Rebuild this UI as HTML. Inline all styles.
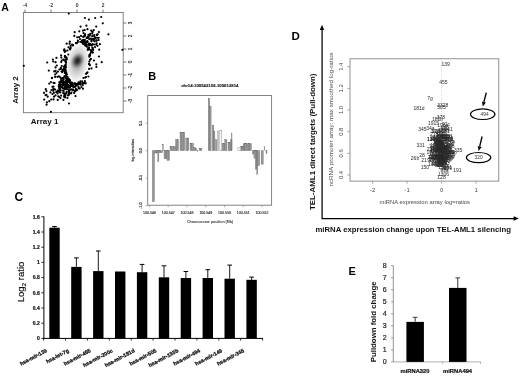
<!DOCTYPE html>
<html><head><meta charset="utf-8"><title>Figure</title>
<style>
html,body{margin:0;padding:0;background:#fff;}
body{width:520px;height:377px;overflow:hidden;}
svg{display:block;filter:blur(0.4px);font-family:"Liberation Sans",sans-serif;}
</style></head><body>
<svg width="520" height="377" viewBox="0 0 520 377">
<rect width="520" height="377" fill="#fff"/>
<g id="A">
<defs>
<radialGradient id="blob">
<stop offset="0" stop-color="#9c9c9c"/>
<stop offset="0.3" stop-color="#b6b6b6"/>
<stop offset="0.6" stop-color="#d6d6d6"/>
<stop offset="0.85" stop-color="#ececec"/>
<stop offset="1" stop-color="#fbfbfb"/>
</radialGradient>
<radialGradient id="core">
<stop offset="0" stop-color="#222" stop-opacity="1"/>
<stop offset="0.25" stop-color="#2c2c2c" stop-opacity="0.95"/>
<stop offset="0.6" stop-color="#555" stop-opacity="0.55"/>
<stop offset="1" stop-color="#999" stop-opacity="0"/>
</radialGradient>
</defs>
<ellipse cx="0" cy="0" rx="19.5" ry="11" transform="translate(77.6 62.6) rotate(-80)" fill="url(#blob)"/>
<ellipse cx="0" cy="0" rx="9" ry="7" transform="translate(77.5 60.8) rotate(-62)" fill="url(#core)"/>
<rect x="23.4" y="12.5" width="99.8" height="100.2" fill="none" stroke="#777" stroke-width="0.9"/>
<line x1="25" y1="9.6" x2="25" y2="12.5" stroke="#555" stroke-width="0.8"/>
<text x="25" y="6.6" font-size="4.8" text-anchor="middle" fill="#222" stroke="#222" stroke-width="0.12">-4</text>
<line x1="51" y1="9.6" x2="51" y2="12.5" stroke="#555" stroke-width="0.8"/>
<text x="51" y="6.6" font-size="4.8" text-anchor="middle" fill="#222" stroke="#222" stroke-width="0.12">-2</text>
<line x1="77" y1="9.6" x2="77" y2="12.5" stroke="#555" stroke-width="0.8"/>
<text x="77" y="6.6" font-size="4.8" text-anchor="middle" fill="#222" stroke="#222" stroke-width="0.12">0</text>
<line x1="103" y1="9.6" x2="103" y2="12.5" stroke="#555" stroke-width="0.8"/>
<text x="103" y="6.6" font-size="4.8" text-anchor="middle" fill="#222" stroke="#222" stroke-width="0.12">2</text>
<line x1="123.2" y1="23" x2="126.4" y2="23" stroke="#555" stroke-width="0.8"/>
<text transform="translate(131.5 23) rotate(-90)" font-size="4.6" text-anchor="middle" fill="#222" stroke="#222" stroke-width="0.15">3</text>
<line x1="123.2" y1="36" x2="126.4" y2="36" stroke="#555" stroke-width="0.8"/>
<text transform="translate(131.5 36) rotate(-90)" font-size="4.6" text-anchor="middle" fill="#222" stroke="#222" stroke-width="0.15">2</text>
<line x1="123.2" y1="49" x2="126.4" y2="49" stroke="#555" stroke-width="0.8"/>
<text transform="translate(131.5 49) rotate(-90)" font-size="4.6" text-anchor="middle" fill="#222" stroke="#222" stroke-width="0.15">1</text>
<line x1="123.2" y1="62" x2="126.4" y2="62" stroke="#555" stroke-width="0.8"/>
<text transform="translate(131.5 62) rotate(-90)" font-size="4.6" text-anchor="middle" fill="#222" stroke="#222" stroke-width="0.15">0</text>
<line x1="123.2" y1="75" x2="126.4" y2="75" stroke="#555" stroke-width="0.8"/>
<text transform="translate(131.5 75) rotate(-90)" font-size="4.6" text-anchor="middle" fill="#222" stroke="#222" stroke-width="0.15">-1</text>
<line x1="123.2" y1="88" x2="126.4" y2="88" stroke="#555" stroke-width="0.8"/>
<text transform="translate(131.5 88) rotate(-90)" font-size="4.6" text-anchor="middle" fill="#222" stroke="#222" stroke-width="0.15">-2</text>
<line x1="123.2" y1="101" x2="126.4" y2="101" stroke="#555" stroke-width="0.8"/>
<text transform="translate(131.5 101) rotate(-90)" font-size="4.6" text-anchor="middle" fill="#222" stroke="#222" stroke-width="0.15">-3</text>
<circle cx="65.7" cy="64.6" r="1.1"/>
<circle cx="66.1" cy="76.6" r="1.1"/>
<circle cx="89.3" cy="61.6" r="1.1"/>
<circle cx="85.4" cy="43.7" r="1.1"/>
<circle cx="73.1" cy="45.2" r="1.1"/>
<circle cx="84.6" cy="83.0" r="1.1"/>
<circle cx="78.4" cy="84.2" r="1.1"/>
<circle cx="79.1" cy="37.1" r="1.1"/>
<circle cx="91.5" cy="41.3" r="1.1"/>
<circle cx="66.0" cy="62.8" r="1.1"/>
<circle cx="74.4" cy="83.4" r="1.1"/>
<circle cx="65.8" cy="66.1" r="1.1"/>
<circle cx="65.3" cy="89.0" r="1.1"/>
<circle cx="64.8" cy="56.3" r="1.1"/>
<circle cx="76.9" cy="42.9" r="1.1"/>
<circle cx="65.5" cy="51.2" r="1.1"/>
<circle cx="66.7" cy="43.7" r="1.1"/>
<circle cx="70.7" cy="47.9" r="1.1"/>
<circle cx="83.9" cy="41.2" r="1.1"/>
<circle cx="65.9" cy="78.0" r="1.1"/>
<circle cx="69.6" cy="43.7" r="1.1"/>
<circle cx="61.8" cy="66.0" r="1.1"/>
<circle cx="90.2" cy="54.0" r="1.1"/>
<circle cx="65.6" cy="72.9" r="1.1"/>
<circle cx="71.0" cy="82.6" r="1.1"/>
<circle cx="68.3" cy="54.5" r="1.1"/>
<circle cx="72.1" cy="44.7" r="1.1"/>
<circle cx="88.4" cy="76.5" r="1.1"/>
<circle cx="90.1" cy="59.8" r="1.1"/>
<circle cx="70.1" cy="49.4" r="1.1"/>
<circle cx="88.7" cy="48.9" r="1.1"/>
<circle cx="84.4" cy="42.6" r="1.1"/>
<circle cx="67.4" cy="50.5" r="1.1"/>
<circle cx="77.3" cy="84.4" r="1.1"/>
<circle cx="68.5" cy="47.3" r="1.1"/>
<circle cx="61.2" cy="62.1" r="1.1"/>
<circle cx="69.9" cy="48.9" r="1.1"/>
<circle cx="64.4" cy="49.3" r="1.1"/>
<circle cx="72.8" cy="45.5" r="1.1"/>
<circle cx="85.4" cy="44.3" r="1.1"/>
<circle cx="80.0" cy="83.8" r="1.1"/>
<circle cx="84.9" cy="81.2" r="1.1"/>
<circle cx="86.9" cy="73.1" r="1.1"/>
<circle cx="82.7" cy="40.3" r="1.1"/>
<circle cx="95.0" cy="38.6" r="1.1"/>
<circle cx="65.8" cy="85.5" r="1.1"/>
<circle cx="89.3" cy="55.1" r="1.1"/>
<circle cx="77.9" cy="42.0" r="1.1"/>
<circle cx="74.3" cy="83.9" r="1.1"/>
<circle cx="64.8" cy="52.0" r="1.1"/>
<circle cx="75.5" cy="83.9" r="1.1"/>
<circle cx="86.0" cy="77.0" r="1.1"/>
<circle cx="82.6" cy="82.8" r="1.1"/>
<circle cx="84.7" cy="30.1" r="1.1"/>
<circle cx="66.8" cy="79.4" r="1.1"/>
<circle cx="87.8" cy="38.0" r="1.1"/>
<circle cx="64.5" cy="69.1" r="1.1"/>
<circle cx="86.5" cy="42.1" r="1.1"/>
<circle cx="63.7" cy="79.1" r="1.1"/>
<circle cx="64.9" cy="55.8" r="1.1"/>
<circle cx="64.9" cy="71.0" r="1.1"/>
<circle cx="76.0" cy="43.1" r="1.1"/>
<circle cx="73.4" cy="87.4" r="1.1"/>
<circle cx="68.0" cy="80.8" r="1.1"/>
<circle cx="79.3" cy="31.3" r="1.1"/>
<circle cx="67.7" cy="77.0" r="1.1"/>
<circle cx="88.7" cy="47.8" r="1.1"/>
<circle cx="92.5" cy="44.0" r="1.1"/>
<circle cx="82.0" cy="40.7" r="1.1"/>
<circle cx="71.8" cy="89.3" r="1.1"/>
<circle cx="77.9" cy="40.5" r="1.1"/>
<circle cx="81.8" cy="42.2" r="1.1"/>
<circle cx="66.9" cy="74.6" r="1.1"/>
<circle cx="82.2" cy="81.3" r="1.1"/>
<circle cx="60.9" cy="67.9" r="1.1"/>
<circle cx="83.5" cy="44.0" r="1.1"/>
<circle cx="66.3" cy="73.7" r="1.1"/>
<circle cx="82.3" cy="42.5" r="1.1"/>
<circle cx="89.1" cy="68.9" r="1.1"/>
<circle cx="65.9" cy="67.5" r="1.1"/>
<circle cx="91.5" cy="68.4" r="1.1"/>
<circle cx="65.0" cy="65.6" r="1.1"/>
<circle cx="65.9" cy="80.9" r="1.1"/>
<circle cx="71.9" cy="84.4" r="1.1"/>
<circle cx="81.4" cy="87.0" r="1.1"/>
<circle cx="87.8" cy="50.0" r="1.1"/>
<circle cx="65.5" cy="70.5" r="1.1"/>
<circle cx="89.1" cy="64.1" r="1.1"/>
<circle cx="83.4" cy="78.0" r="1.1"/>
<circle cx="82.7" cy="41.7" r="1.1"/>
<circle cx="89.5" cy="49.5" r="1.1"/>
<circle cx="77.2" cy="37.3" r="1.1"/>
<circle cx="62.8" cy="78.1" r="1.1"/>
<circle cx="92.3" cy="49.6" r="1.1"/>
<circle cx="89.1" cy="63.9" r="1.1"/>
<circle cx="91.6" cy="45.5" r="1.1"/>
<circle cx="87.8" cy="49.2" r="1.1"/>
<circle cx="58.9" cy="76.4" r="1.1"/>
<circle cx="54.6" cy="83.1" r="1.1"/>
<circle cx="90.0" cy="55.6" r="1.1"/>
<circle cx="90.9" cy="50.3" r="1.1"/>
<circle cx="76.4" cy="84.4" r="1.1"/>
<circle cx="61.1" cy="55.4" r="1.1"/>
<circle cx="79.7" cy="88.4" r="1.1"/>
<circle cx="90.9" cy="52.4" r="1.1"/>
<circle cx="65.5" cy="81.8" r="1.1"/>
<circle cx="93.6" cy="39.0" r="1.1"/>
<circle cx="68.3" cy="79.7" r="1.1"/>
<circle cx="75.5" cy="86.4" r="1.1"/>
<circle cx="64.1" cy="69.3" r="1.1"/>
<circle cx="61.5" cy="71.5" r="1.1"/>
<circle cx="65.6" cy="61.8" r="1.1"/>
<circle cx="78.9" cy="83.7" r="1.1"/>
<circle cx="91.8" cy="45.0" r="1.1"/>
<circle cx="57.6" cy="93.4" r="1.1"/>
<circle cx="88.2" cy="37.0" r="1.1"/>
<circle cx="65.6" cy="60.4" r="1.1"/>
<circle cx="60.0" cy="83.1" r="1.1"/>
<circle cx="53.2" cy="61.5" r="1.1"/>
<circle cx="83.8" cy="83.4" r="1.1"/>
<circle cx="62.8" cy="81.8" r="1.1"/>
<circle cx="67.1" cy="82.9" r="1.1"/>
<circle cx="93.1" cy="49.9" r="1.1"/>
<circle cx="64.7" cy="70.4" r="1.1"/>
<circle cx="66.0" cy="85.8" r="1.1"/>
<circle cx="65.3" cy="95.1" r="1.1"/>
<circle cx="78.4" cy="83.6" r="1.1"/>
<circle cx="51.5" cy="90.0" r="1.1"/>
<circle cx="68.6" cy="79.3" r="1.1"/>
<circle cx="64.0" cy="68.6" r="1.1"/>
<circle cx="62.4" cy="83.5" r="1.1"/>
<circle cx="53.5" cy="86.7" r="1.1"/>
<circle cx="58.3" cy="96.3" r="1.1"/>
<circle cx="86.5" cy="38.1" r="1.1"/>
<circle cx="66.1" cy="74.9" r="1.1"/>
<circle cx="63.4" cy="69.6" r="1.1"/>
<circle cx="69.8" cy="80.1" r="1.1"/>
<circle cx="59.3" cy="97.1" r="1.1"/>
<circle cx="64.0" cy="67.1" r="1.1"/>
<circle cx="92.8" cy="52.6" r="1.1"/>
<circle cx="62.3" cy="72.2" r="1.1"/>
<circle cx="69.8" cy="41.7" r="1.1"/>
<circle cx="88.6" cy="44.3" r="1.1"/>
<circle cx="84.9" cy="42.3" r="1.1"/>
<circle cx="66.4" cy="83.7" r="1.1"/>
<circle cx="57.9" cy="71.6" r="1.1"/>
<circle cx="64.4" cy="83.2" r="1.1"/>
<circle cx="63.5" cy="93.1" r="1.1"/>
<circle cx="86.4" cy="25.7" r="1.1"/>
<circle cx="60.9" cy="81.9" r="1.1"/>
<circle cx="66.0" cy="62.2" r="1.1"/>
<circle cx="71.0" cy="82.7" r="1.1"/>
<circle cx="64.3" cy="60.3" r="1.1"/>
<circle cx="67.5" cy="82.1" r="1.1"/>
<circle cx="66.6" cy="87.4" r="1.1"/>
<circle cx="76.3" cy="90.1" r="1.1"/>
<circle cx="67.2" cy="80.8" r="1.1"/>
<circle cx="53.5" cy="99.4" r="1.1"/>
<circle cx="96.6" cy="40.6" r="1.1"/>
<circle cx="92.3" cy="47.6" r="1.1"/>
<circle cx="62.4" cy="90.5" r="1.1"/>
<circle cx="58.8" cy="86.3" r="1.1"/>
<circle cx="61.2" cy="87.2" r="1.1"/>
<circle cx="96.3" cy="64.3" r="1.1"/>
<circle cx="53.9" cy="92.8" r="1.1"/>
<circle cx="68.5" cy="79.0" r="1.1"/>
<circle cx="67.7" cy="78.5" r="1.1"/>
<circle cx="87.5" cy="36.9" r="1.1"/>
<circle cx="60.8" cy="81.1" r="1.1"/>
<circle cx="63.3" cy="59.6" r="1.1"/>
<circle cx="57.7" cy="90.7" r="1.1"/>
<circle cx="56.8" cy="65.5" r="1.1"/>
<circle cx="70.8" cy="84.9" r="1.1"/>
<circle cx="62.8" cy="70.4" r="1.1"/>
<circle cx="99.0" cy="56.5" r="1.1"/>
<circle cx="64.4" cy="71.2" r="1.1"/>
<circle cx="64.6" cy="82.1" r="1.1"/>
<circle cx="62.7" cy="69.8" r="1.1"/>
<circle cx="91.8" cy="51.8" r="1.1"/>
<circle cx="59.0" cy="84.6" r="1.1"/>
<circle cx="65.3" cy="69.4" r="1.1"/>
<circle cx="89.9" cy="43.9" r="1.1"/>
<circle cx="65.2" cy="72.0" r="1.1"/>
<circle cx="66.6" cy="59.3" r="1.1"/>
<circle cx="85.2" cy="42.3" r="1.1"/>
<circle cx="62.6" cy="78.1" r="1.1"/>
<circle cx="59.5" cy="88.0" r="1.1"/>
<circle cx="66.0" cy="57.3" r="1.1"/>
<circle cx="64.6" cy="76.2" r="1.1"/>
<circle cx="60.8" cy="68.9" r="1.1"/>
<circle cx="69.8" cy="80.7" r="1.1"/>
<circle cx="83.9" cy="40.0" r="1.1"/>
<circle cx="71.3" cy="83.7" r="1.1"/>
<circle cx="64.0" cy="50.4" r="1.1"/>
<circle cx="59.4" cy="82.2" r="1.1"/>
<circle cx="68.4" cy="80.0" r="1.1"/>
<circle cx="69.2" cy="87.3" r="1.1"/>
<circle cx="46.4" cy="91.1" r="1.1"/>
<circle cx="66.4" cy="78.0" r="1.1"/>
<circle cx="67.9" cy="80.6" r="1.1"/>
<circle cx="61.3" cy="57.6" r="1.1"/>
<circle cx="69.3" cy="90.6" r="1.1"/>
<circle cx="89.9" cy="65.2" r="1.1"/>
<circle cx="66.2" cy="72.4" r="1.1"/>
<circle cx="64.5" cy="66.0" r="1.1"/>
<circle cx="65.4" cy="71.3" r="1.1"/>
<circle cx="76.2" cy="43.2" r="1.1"/>
<circle cx="60.2" cy="77.3" r="1.1"/>
<circle cx="56.4" cy="73.1" r="1.1"/>
<circle cx="61.1" cy="79.1" r="1.1"/>
<circle cx="68.7" cy="80.6" r="1.1"/>
<circle cx="63.7" cy="77.5" r="1.1"/>
<circle cx="92.3" cy="31.5" r="1.1"/>
<circle cx="63.0" cy="81.7" r="1.1"/>
<circle cx="99.2" cy="49.7" r="1.1"/>
<circle cx="82.9" cy="43.5" r="1.1"/>
<circle cx="87.5" cy="41.9" r="1.1"/>
<circle cx="45.6" cy="95.2" r="1.1"/>
<circle cx="53.4" cy="89.1" r="1.1"/>
<circle cx="64.6" cy="82.7" r="1.1"/>
<circle cx="61.8" cy="60.6" r="1.1"/>
<circle cx="66.6" cy="57.7" r="1.1"/>
<circle cx="59.6" cy="92.0" r="1.1"/>
<circle cx="85.1" cy="45.2" r="1.1"/>
<circle cx="59.4" cy="69.5" r="1.1"/>
<circle cx="89.3" cy="56.7" r="1.1"/>
<circle cx="89.2" cy="45.4" r="1.1"/>
<circle cx="85.6" cy="45.7" r="1.1"/>
<circle cx="66.3" cy="78.6" r="1.1"/>
<circle cx="90.7" cy="44.8" r="1.1"/>
<circle cx="93.9" cy="60.5" r="1.1"/>
<circle cx="89.0" cy="43.7" r="1.1"/>
<circle cx="80.1" cy="82.8" r="1.1"/>
<circle cx="55.2" cy="74.5" r="1.1"/>
<circle cx="64.1" cy="96.8" r="1.1"/>
<circle cx="60.6" cy="85.1" r="1.1"/>
<circle cx="63.1" cy="84.8" r="1.1"/>
<circle cx="93.0" cy="39.1" r="1.1"/>
<circle cx="90.9" cy="58.9" r="1.1"/>
<circle cx="66.3" cy="93.4" r="1.1"/>
<circle cx="97.5" cy="45.8" r="1.1"/>
<circle cx="52.9" cy="59.5" r="1.1"/>
<circle cx="62.2" cy="84.6" r="1.1"/>
<circle cx="60.8" cy="82.1" r="1.1"/>
<circle cx="68.2" cy="80.3" r="1.1"/>
<circle cx="65.0" cy="57.4" r="1.1"/>
<circle cx="61.9" cy="86.6" r="1.1"/>
<circle cx="87.5" cy="72.4" r="1.1"/>
<circle cx="64.9" cy="72.9" r="1.1"/>
<circle cx="53.5" cy="82.8" r="1.1"/>
<circle cx="75.2" cy="83.5" r="1.1"/>
<circle cx="55.1" cy="76.9" r="1.1"/>
<circle cx="63.8" cy="91.0" r="1.1"/>
<circle cx="92.9" cy="48.4" r="1.1"/>
<circle cx="88.7" cy="47.6" r="1.1"/>
<circle cx="66.6" cy="59.1" r="1.1"/>
<circle cx="65.1" cy="67.1" r="1.1"/>
<circle cx="90.8" cy="45.0" r="1.1"/>
<circle cx="62.3" cy="78.2" r="1.1"/>
<circle cx="51.0" cy="82.0" r="1.1"/>
<circle cx="53.6" cy="89.1" r="1.1"/>
<circle cx="68.6" cy="78.8" r="1.1"/>
<circle cx="51.9" cy="78.1" r="1.1"/>
<circle cx="89.2" cy="39.1" r="1.1"/>
<circle cx="70.5" cy="89.7" r="1.1"/>
<circle cx="66.6" cy="85.4" r="1.1"/>
<circle cx="63.4" cy="82.2" r="1.1"/>
<circle cx="96.7" cy="43.3" r="1.1"/>
<circle cx="94.7" cy="41.4" r="1.1"/>
<circle cx="58.5" cy="91.5" r="1.1"/>
<circle cx="96.9" cy="34.8" r="1.1"/>
<circle cx="92.4" cy="52.3" r="1.1"/>
<circle cx="54.2" cy="71.4" r="1.1"/>
<circle cx="72.2" cy="82.8" r="1.1"/>
<circle cx="57.4" cy="76.8" r="1.1"/>
<circle cx="63.4" cy="99.9" r="1.1"/>
<circle cx="63.3" cy="80.0" r="1.1"/>
<circle cx="86.0" cy="73.8" r="1.1"/>
<circle cx="64.3" cy="83.9" r="1.1"/>
<circle cx="65.3" cy="69.9" r="1.1"/>
<circle cx="75.6" cy="86.0" r="1.1"/>
<circle cx="74.7" cy="91.1" r="1.1"/>
<circle cx="69.6" cy="87.5" r="1.1"/>
<circle cx="71.5" cy="85.3" r="1.1"/>
<circle cx="69.1" cy="93.4" r="1.1"/>
<circle cx="51.2" cy="99.5" r="1.1"/>
<circle cx="75.9" cy="89.1" r="1.1"/>
<circle cx="59.4" cy="88.3" r="1.1"/>
<circle cx="65.0" cy="93.7" r="1.1"/>
<circle cx="59.8" cy="88.4" r="1.1"/>
<circle cx="68.4" cy="89.4" r="1.1"/>
<circle cx="63.8" cy="88.7" r="1.1"/>
<circle cx="63.3" cy="93.1" r="1.1"/>
<circle cx="65.9" cy="89.0" r="1.1"/>
<circle cx="46.5" cy="94.8" r="1.1"/>
<circle cx="65.1" cy="96.1" r="1.1"/>
<circle cx="71.0" cy="86.2" r="1.1"/>
<circle cx="58.9" cy="90.7" r="1.1"/>
<circle cx="65.4" cy="84.9" r="1.1"/>
<circle cx="75.1" cy="91.3" r="1.1"/>
<circle cx="76.8" cy="90.3" r="1.1"/>
<circle cx="71.1" cy="85.5" r="1.1"/>
<circle cx="64.8" cy="85.7" r="1.1"/>
<circle cx="59.3" cy="86.8" r="1.1"/>
<circle cx="59.4" cy="90.1" r="1.1"/>
<circle cx="80.7" cy="84.7" r="1.1"/>
<circle cx="68.9" cy="91.5" r="1.1"/>
<circle cx="61.8" cy="80.4" r="1.1"/>
<circle cx="74.8" cy="87.0" r="1.1"/>
<circle cx="67.9" cy="86.6" r="1.1"/>
<circle cx="67.2" cy="86.9" r="1.1"/>
<circle cx="75.9" cy="89.6" r="1.1"/>
<circle cx="65.3" cy="88.3" r="1.1"/>
<circle cx="73.2" cy="85.4" r="1.1"/>
<circle cx="66.0" cy="86.7" r="1.1"/>
<circle cx="64.8" cy="81.9" r="1.1"/>
<circle cx="60.3" cy="92.4" r="1.1"/>
<circle cx="78.4" cy="86.7" r="1.1"/>
<circle cx="82.7" cy="85.1" r="1.1"/>
<circle cx="65.8" cy="86.7" r="1.1"/>
<circle cx="61.1" cy="95.6" r="1.1"/>
<circle cx="64.3" cy="95.4" r="1.1"/>
<circle cx="71.0" cy="93.5" r="1.1"/>
<circle cx="68.8" cy="92.6" r="1.1"/>
<circle cx="53.8" cy="89.5" r="1.1"/>
<circle cx="72.7" cy="90.3" r="1.1"/>
<circle cx="78.6" cy="88.4" r="1.1"/>
<circle cx="65.3" cy="97.4" r="1.1"/>
<circle cx="80.4" cy="81.4" r="1.1"/>
<circle cx="65.1" cy="87.2" r="1.1"/>
<circle cx="66.7" cy="91.9" r="1.1"/>
<circle cx="67.7" cy="84.5" r="1.1"/>
<circle cx="69.8" cy="82.6" r="1.1"/>
<circle cx="63.1" cy="85.6" r="1.1"/>
<circle cx="60.0" cy="84.9" r="1.1"/>
<circle cx="73.3" cy="89.9" r="1.1"/>
<circle cx="72.6" cy="86.0" r="1.1"/>
<circle cx="64.8" cy="94.8" r="1.1"/>
<circle cx="62.6" cy="88.0" r="1.1"/>
<circle cx="80.7" cy="83.4" r="1.1"/>
<circle cx="55.5" cy="95.4" r="1.1"/>
<circle cx="68.0" cy="95.4" r="1.1"/>
<circle cx="74.1" cy="92.9" r="1.1"/>
<circle cx="68.8" cy="85.4" r="1.1"/>
<circle cx="64.4" cy="88.0" r="1.1"/>
<circle cx="50.4" cy="92.4" r="1.1"/>
<circle cx="77.2" cy="83.8" r="1.1"/>
<circle cx="69.8" cy="82.7" r="1.1"/>
<circle cx="56.3" cy="92.2" r="1.1"/>
<circle cx="69.6" cy="86.0" r="1.1"/>
<circle cx="57.1" cy="91.6" r="1.1"/>
<circle cx="69.9" cy="87.5" r="1.1"/>
<circle cx="69.2" cy="86.9" r="1.1"/>
<circle cx="76.7" cy="90.0" r="1.1"/>
<circle cx="69.0" cy="82.0" r="1.1"/>
<circle cx="76.7" cy="84.2" r="1.1"/>
<circle cx="85.2" cy="77.6" r="1.1"/>
<circle cx="67.5" cy="98.0" r="1.1"/>
<circle cx="71.3" cy="92.7" r="1.1"/>
<circle cx="77.0" cy="84.7" r="1.1"/>
<circle cx="78.5" cy="82.3" r="1.1"/>
<circle cx="68.9" cy="91.0" r="1.1"/>
<circle cx="60.5" cy="98.1" r="1.1"/>
<circle cx="60.0" cy="86.2" r="1.1"/>
<circle cx="63.1" cy="84.5" r="1.1"/>
<circle cx="55.1" cy="89.6" r="1.1"/>
<circle cx="65.1" cy="88.9" r="1.1"/>
<circle cx="59.1" cy="85.4" r="1.1"/>
<circle cx="66.9" cy="89.2" r="1.1"/>
<circle cx="60.4" cy="90.1" r="1.1"/>
<circle cx="68.8" cy="94.9" r="1.1"/>
<circle cx="93.5" cy="39.7" r="1.1"/>
<circle cx="92.2" cy="33.6" r="1.1"/>
<circle cx="96.8" cy="34.9" r="1.1"/>
<circle cx="86.5" cy="44.9" r="1.1"/>
<circle cx="85.0" cy="34.2" r="1.1"/>
<circle cx="86.2" cy="45.4" r="1.1"/>
<circle cx="96.5" cy="40.4" r="1.1"/>
<circle cx="88.4" cy="34.8" r="1.1"/>
<circle cx="98.6" cy="40.0" r="1.1"/>
<circle cx="83.6" cy="39.9" r="1.1"/>
<circle cx="95.7" cy="37.5" r="1.1"/>
<circle cx="84.6" cy="36.2" r="1.1"/>
<circle cx="80.3" cy="41.8" r="1.1"/>
<circle cx="70.6" cy="45.9" r="1.1"/>
<circle cx="86.5" cy="44.4" r="1.1"/>
<circle cx="84.1" cy="42.8" r="1.1"/>
<circle cx="87.3" cy="41.1" r="1.1"/>
<circle cx="92.6" cy="32.0" r="1.1"/>
<circle cx="85.0" cy="35.1" r="1.1"/>
<circle cx="97.2" cy="37.8" r="1.1"/>
<circle cx="94.2" cy="36.5" r="1.1"/>
<circle cx="83.2" cy="36.9" r="1.1"/>
<circle cx="94.0" cy="44.5" r="1.1"/>
<circle cx="92.2" cy="36.2" r="1.1"/>
<circle cx="98.9" cy="32.1" r="1.1"/>
<circle cx="89.9" cy="35.5" r="1.1"/>
<circle cx="83.7" cy="42.0" r="1.1"/>
<circle cx="96.2" cy="44.7" r="1.1"/>
<circle cx="84.2" cy="36.0" r="1.1"/>
<circle cx="80.0" cy="39.0" r="1.1"/>
<circle cx="91.0" cy="38.7" r="1.1"/>
<circle cx="95.0" cy="38.0" r="1.1"/>
<circle cx="86.9" cy="46.7" r="1.1"/>
<circle cx="88.6" cy="37.0" r="1.1"/>
<circle cx="95.0" cy="47.1" r="1.1"/>
<circle cx="89.1" cy="44.1" r="1.1"/>
<circle cx="91.3" cy="40.0" r="1.1"/>
<circle cx="87.1" cy="41.8" r="1.1"/>
<circle cx="93.5" cy="39.3" r="1.1"/>
<circle cx="98.6" cy="37.8" r="1.1"/>
<circle cx="83.5" cy="33.1" r="1.1"/>
<circle cx="93.6" cy="40.5" r="1.1"/>
<circle cx="93.8" cy="30.1" r="1.1"/>
<circle cx="84.9" cy="40.2" r="1.1"/>
<circle cx="81.0" cy="35.9" r="1.1"/>
<circle cx="84.9" cy="18.0" r="1.1"/>
<circle cx="88.9" cy="19.6" r="1.1"/>
<circle cx="95.2" cy="18.0" r="1.1"/>
<circle cx="101.2" cy="17.0" r="1.1"/>
<circle cx="102.8" cy="23.3" r="1.1"/>
<circle cx="80.6" cy="26.6" r="1.1"/>
<circle cx="96.2" cy="26.6" r="1.1"/>
<circle cx="82.9" cy="30.6" r="1.1"/>
<circle cx="87.5" cy="29.2" r="1.1"/>
<circle cx="91.2" cy="30.6" r="1.1"/>
<circle cx="74.7" cy="32.2" r="1.1"/>
<circle cx="97.7" cy="34.3" r="1.1"/>
<circle cx="74.3" cy="35.9" r="1.1"/>
<circle cx="94.2" cy="35.2" r="1.1"/>
<circle cx="90.2" cy="33.9" r="1.1"/>
<circle cx="99.9" cy="44.2" r="1.1"/>
<circle cx="56.4" cy="57.9" r="1.1"/>
<circle cx="47.2" cy="62.5" r="1.1"/>
<circle cx="55.6" cy="62.2" r="1.1"/>
<circle cx="48.8" cy="70.6" r="1.1"/>
<circle cx="55.6" cy="67.4" r="1.1"/>
<circle cx="55.6" cy="70.9" r="1.1"/>
<circle cx="52.0" cy="77.8" r="1.1"/>
<circle cx="49.3" cy="83.6" r="1.1"/>
<circle cx="45.8" cy="89.2" r="1.1"/>
<circle cx="44.0" cy="92.9" r="1.1"/>
<circle cx="47.7" cy="96.7" r="1.1"/>
<circle cx="44.2" cy="99.6" r="1.1"/>
<circle cx="46.9" cy="102.3" r="1.1"/>
<circle cx="49.3" cy="101.2" r="1.1"/>
<circle cx="46.6" cy="104.7" r="1.1"/>
<circle cx="57.7" cy="99.9" r="1.1"/>
<circle cx="75.5" cy="96.1" r="1.1"/>
<circle cx="52.4" cy="86.8" r="1.1"/>
<circle cx="53.2" cy="90.8" r="1.1"/>
<circle cx="52.4" cy="94.0" r="1.1"/>
<circle cx="54.0" cy="96.7" r="1.1"/>
<circle cx="96.4" cy="66.9" r="1.1"/>
<circle cx="85.8" cy="83.3" r="1.1"/>
<circle cx="82.9" cy="88.7" r="1.1"/>
<circle cx="68.8" cy="13.6" r="1.1"/>
<circle cx="23.8" cy="65.8" r="1.1"/>
<circle cx="122.4" cy="49.8" r="1.1"/>
<circle cx="50.9" cy="111.8" r="1.1"/>
<circle cx="108.4" cy="34.3" r="1.1"/>
<circle cx="101.7" cy="62.2" r="1.1"/>
<circle cx="69.0" cy="103.5" r="1.1"/>
<text x="1.3" y="10.8" font-size="10.5" font-weight="bold">A</text>
<text x="44.6" y="124.3" font-size="8" font-weight="bold" text-anchor="middle" fill="#111">Array 1</text>
<text transform="translate(18.3 90) rotate(-90)" font-size="8" font-weight="bold" text-anchor="middle" fill="#111">Array 2</text>
</g>
<g id="B">
<text x="148.2" y="79.6" font-size="11" font-weight="bold">B</text>
<text x="209.8" y="87.2" font-size="4.3" font-weight="bold" text-anchor="middle" textLength="57.3" lengthAdjust="spacingAndGlyphs" fill="#222" stroke="#222" stroke-width="0.15">chr14:100542156-100612814</text>
<rect x="152.30" y="150.7" width="2.20" height="51.1" fill="#999" stroke="#5e5e5e" stroke-width="0.32"/>
<rect x="154.50" y="150.7" width="1.55" height="2.3" fill="#999" stroke="#5e5e5e" stroke-width="0.32"/>
<rect x="156.05" y="150.7" width="1.55" height="2.3" fill="#999" stroke="#5e5e5e" stroke-width="0.32"/>
<rect x="157.80" y="150.7" width="1.10" height="11.0" fill="#999" stroke="#5e5e5e" stroke-width="0.32"/>
<rect x="158.90" y="150.7" width="1.85" height="2.1" fill="#999" stroke="#5e5e5e" stroke-width="0.32"/>
<rect x="160.75" y="150.7" width="1.85" height="2.1" fill="#999" stroke="#5e5e5e" stroke-width="0.32"/>
<rect x="162.70" y="144.2" width="0.60" height="6.5" fill="#999" stroke="#5e5e5e" stroke-width="0.32"/>
<rect x="164.00" y="150.7" width="1.45" height="8.1" fill="#999" stroke="#5e5e5e" stroke-width="0.32"/>
<rect x="165.45" y="150.7" width="1.45" height="8.1" fill="#999" stroke="#5e5e5e" stroke-width="0.32"/>
<rect x="166.90" y="150.7" width="1.30" height="9.8" fill="#999" stroke="#5e5e5e" stroke-width="0.32"/>
<rect x="168.20" y="150.7" width="1.30" height="9.8" fill="#999" stroke="#5e5e5e" stroke-width="0.32"/>
<rect x="170.00" y="146.4" width="1.70" height="4.3" fill="#999" stroke="#5e5e5e" stroke-width="0.32"/>
<rect x="171.70" y="146.4" width="1.70" height="4.3" fill="#999" stroke="#5e5e5e" stroke-width="0.32"/>
<rect x="173.40" y="146.4" width="2.20" height="4.3" fill="#999" stroke="#5e5e5e" stroke-width="0.32"/>
<rect x="175.60" y="139.8" width="1.45" height="10.9" fill="#999" stroke="#5e5e5e" stroke-width="0.32"/>
<rect x="177.05" y="139.8" width="1.45" height="10.9" fill="#999" stroke="#5e5e5e" stroke-width="0.32"/>
<rect x="180.00" y="132.2" width="1.57" height="18.5" fill="#999" stroke="#5e5e5e" stroke-width="0.32"/>
<rect x="181.57" y="132.2" width="1.57" height="18.5" fill="#999" stroke="#5e5e5e" stroke-width="0.32"/>
<rect x="183.13" y="132.2" width="1.57" height="18.5" fill="#999" stroke="#5e5e5e" stroke-width="0.32"/>
<rect x="185.80" y="138.0" width="1.50" height="12.7" fill="#999" stroke="#5e5e5e" stroke-width="0.32"/>
<rect x="187.30" y="138.0" width="1.50" height="12.7" fill="#999" stroke="#5e5e5e" stroke-width="0.32"/>
<rect x="190.00" y="143.1" width="1.70" height="7.6" fill="#999" stroke="#5e5e5e" stroke-width="0.32"/>
<rect x="191.70" y="143.1" width="1.70" height="7.6" fill="#999" stroke="#5e5e5e" stroke-width="0.32"/>
<rect x="193.40" y="147.4" width="1.90" height="3.3" fill="#999" stroke="#5e5e5e" stroke-width="0.32"/>
<rect x="195.30" y="148.8" width="1.50" height="1.9" fill="#999" stroke="#5e5e5e" stroke-width="0.32"/>
<rect x="197.20" y="150.7" width="0.70" height="0.9" fill="#999" stroke="#5e5e5e" stroke-width="0.32"/>
<rect x="199.30" y="148.3" width="1.30" height="2.4" fill="#999" stroke="#5e5e5e" stroke-width="0.32"/>
<rect x="200.60" y="148.3" width="1.30" height="2.4" fill="#999" stroke="#5e5e5e" stroke-width="0.32"/>
<rect x="208.20" y="98.5" width="1.50" height="52.2" fill="#999" stroke="#5e5e5e" stroke-width="0.32"/>
<rect x="209.70" y="106.1" width="1.40" height="44.6" fill="#999" stroke="#5e5e5e" stroke-width="0.32"/>
<rect x="212.30" y="125.1" width="1.50" height="25.6" fill="#999" stroke="#5e5e5e" stroke-width="0.32"/>
<rect x="213.80" y="130.9" width="1.10" height="19.8" fill="#999" stroke="#5e5e5e" stroke-width="0.32"/>
<rect x="215.50" y="139.7" width="1.80" height="11.0" fill="#999" stroke="#5e5e5e" stroke-width="0.32"/>
<rect x="221.80" y="143.3" width="1.45" height="7.4" fill="#999" stroke="#5e5e5e" stroke-width="0.32"/>
<rect x="223.25" y="143.3" width="1.45" height="7.4" fill="#999" stroke="#5e5e5e" stroke-width="0.32"/>
<rect x="224.70" y="139.4" width="2.20" height="11.3" fill="#999" stroke="#5e5e5e" stroke-width="0.32"/>
<rect x="228.00" y="142.6" width="1.25" height="8.1" fill="#999" stroke="#5e5e5e" stroke-width="0.32"/>
<rect x="229.25" y="142.6" width="1.25" height="8.1" fill="#999" stroke="#5e5e5e" stroke-width="0.32"/>
<rect x="230.50" y="139.7" width="1.50" height="11.0" fill="#999" stroke="#5e5e5e" stroke-width="0.32"/>
<rect x="231.50" y="133.1" width="0.50" height="17.6" fill="#999" stroke="#5e5e5e" stroke-width="0.32"/>
<rect x="243.20" y="143.5" width="1.64" height="7.2" fill="#999" stroke="#5e5e5e" stroke-width="0.32"/>
<rect x="244.84" y="143.5" width="1.64" height="7.2" fill="#999" stroke="#5e5e5e" stroke-width="0.32"/>
<rect x="246.48" y="143.5" width="1.64" height="7.2" fill="#999" stroke="#5e5e5e" stroke-width="0.32"/>
<rect x="248.12" y="143.5" width="1.64" height="7.2" fill="#999" stroke="#5e5e5e" stroke-width="0.32"/>
<rect x="249.76" y="143.5" width="1.64" height="7.2" fill="#999" stroke="#5e5e5e" stroke-width="0.32"/>
<rect x="240.70" y="146.2" width="1.25" height="4.5" fill="#999" stroke="#5e5e5e" stroke-width="0.32"/>
<rect x="241.95" y="146.2" width="1.25" height="4.5" fill="#999" stroke="#5e5e5e" stroke-width="0.32"/>
<rect x="252.40" y="150.7" width="1.50" height="3.3" fill="#999" stroke="#5e5e5e" stroke-width="0.32"/>
<rect x="253.90" y="150.7" width="1.40" height="7.6" fill="#999" stroke="#5e5e5e" stroke-width="0.32"/>
<rect x="255.30" y="150.7" width="1.50" height="18.6" fill="#999" stroke="#5e5e5e" stroke-width="0.32"/>
<rect x="256.80" y="150.7" width="1.00" height="23.7" fill="#999" stroke="#5e5e5e" stroke-width="0.32"/>
<rect x="257.80" y="150.7" width="1.90" height="14.9" fill="#999" stroke="#5e5e5e" stroke-width="0.32"/>
<rect x="261.10" y="150.7" width="2.20" height="13.5" fill="#999" stroke="#5e5e5e" stroke-width="0.32"/>
<rect x="264.10" y="146.2" width="0.70" height="4.5" fill="#999" stroke="#5e5e5e" stroke-width="0.32"/>
<rect x="266.00" y="150.7" width="1.00" height="3.0" fill="#999" stroke="#5e5e5e" stroke-width="0.32"/>
<rect x="217.2" y="131.2" width="1.1" height="19.5" fill="#f4f4f4" stroke="#888" stroke-width="0.45"/>
<rect x="219.1" y="130.2" width="2.7" height="20.5" fill="#f4f4f4" stroke="#888" stroke-width="0.45"/>
<rect x="237.8" y="147.8" width="2.9" height="2.9" fill="#f4f4f4" stroke="#888" stroke-width="0.45"/>
<rect x="147.7" y="95.5" width="123.9" height="109.7" fill="none" stroke="#777" stroke-width="0.9"/>
<line x1="149.5" y1="205.2" x2="149.5" y2="207.2" stroke="#777" stroke-width="0.6"/>
<text x="149.5" y="213.8" font-size="3.55" text-anchor="middle" fill="#222" stroke="#222" stroke-width="0.1">100.546</text>
<line x1="168.2" y1="205.2" x2="168.2" y2="207.2" stroke="#777" stroke-width="0.6"/>
<text x="168.2" y="213.8" font-size="3.55" text-anchor="middle" fill="#222" stroke="#222" stroke-width="0.1">100.547</text>
<line x1="187.0" y1="205.2" x2="187.0" y2="207.2" stroke="#777" stroke-width="0.6"/>
<text x="187.0" y="213.8" font-size="3.55" text-anchor="middle" fill="#222" stroke="#222" stroke-width="0.1">100.548</text>
<line x1="205.8" y1="205.2" x2="205.8" y2="207.2" stroke="#777" stroke-width="0.6"/>
<text x="205.8" y="213.8" font-size="3.55" text-anchor="middle" fill="#222" stroke="#222" stroke-width="0.1">100.549</text>
<line x1="224.5" y1="205.2" x2="224.5" y2="207.2" stroke="#777" stroke-width="0.6"/>
<text x="224.5" y="213.8" font-size="3.55" text-anchor="middle" fill="#222" stroke="#222" stroke-width="0.1">100.550</text>
<line x1="243.2" y1="205.2" x2="243.2" y2="207.2" stroke="#777" stroke-width="0.6"/>
<text x="243.2" y="213.8" font-size="3.55" text-anchor="middle" fill="#222" stroke="#222" stroke-width="0.1">100.551</text>
<line x1="262.0" y1="205.2" x2="262.0" y2="207.2" stroke="#777" stroke-width="0.6"/>
<text x="262.0" y="213.8" font-size="3.55" text-anchor="middle" fill="#222" stroke="#222" stroke-width="0.1">100.552</text>
<line x1="145.7" y1="123.2" x2="147.7" y2="123.2" stroke="#777" stroke-width="0.6"/>
<text transform="translate(142 123.2) rotate(-90)" font-size="3.6" text-anchor="middle" fill="#222" stroke="#222" stroke-width="0.12">0.5</text>
<line x1="145.7" y1="150.7" x2="147.7" y2="150.7" stroke="#777" stroke-width="0.6"/>
<text transform="translate(142 150.7) rotate(-90)" font-size="3.6" text-anchor="middle" fill="#222" stroke="#222" stroke-width="0.12">0.0</text>
<line x1="145.7" y1="178.2" x2="147.7" y2="178.2" stroke="#777" stroke-width="0.6"/>
<text transform="translate(142 178.2) rotate(-90)" font-size="3.6" text-anchor="middle" fill="#222" stroke="#222" stroke-width="0.12">-0.5</text>
<line x1="145.7" y1="205.7" x2="147.7" y2="205.7" stroke="#777" stroke-width="0.6"/>
<text transform="translate(142 205.7) rotate(-90)" font-size="3.6" text-anchor="middle" fill="#222" stroke="#222" stroke-width="0.12">-1.0</text>
<text transform="translate(133.8 150.3) rotate(-90)" font-size="3.7" text-anchor="middle" fill="#222" stroke="#222" stroke-width="0.12">log-intensities</text>
<text x="210" y="223" font-size="3.9" font-weight="bold" text-anchor="middle" textLength="46" lengthAdjust="spacingAndGlyphs" fill="#333">Chromosome position (Mb)</text>
</g>
<g id="C">
<text x="14.5" y="200.6" font-size="12" font-weight="bold">C</text>
<rect x="49.3" y="227.7" width="10.4" height="110.7" fill="#000"/>
<line x1="54.5" y1="227.7" x2="54.5" y2="226.5" stroke="#000" stroke-width="0.9"/>
<line x1="52.2" y1="226.5" x2="56.8" y2="226.5" stroke="#000" stroke-width="1"/>
<text transform="translate(47.4 351.8) rotate(-28)" font-size="5.3" font-weight="bold" text-anchor="end" fill="#111" stroke="#111" stroke-width="0.25">hsa-mir-139</text>
<rect x="71.2" y="266.9" width="10.4" height="71.5" fill="#000"/>
<line x1="76.4" y1="266.9" x2="76.4" y2="257.9" stroke="#000" stroke-width="0.9"/>
<line x1="74.1" y1="257.9" x2="78.7" y2="257.9" stroke="#000" stroke-width="1"/>
<text transform="translate(69.3 351.8) rotate(-28)" font-size="5.3" font-weight="bold" text-anchor="end" fill="#111" stroke="#111" stroke-width="0.25">hsa-let-7g</text>
<rect x="93.1" y="271.1" width="10.4" height="67.3" fill="#000"/>
<line x1="98.3" y1="271.1" x2="98.3" y2="251.0" stroke="#000" stroke-width="0.9"/>
<line x1="96.0" y1="251.0" x2="100.6" y2="251.0" stroke="#000" stroke-width="1"/>
<text transform="translate(91.2 351.8) rotate(-28)" font-size="5.3" font-weight="bold" text-anchor="end" fill="#111" stroke="#111" stroke-width="0.25">hsa-mir-455</text>
<rect x="115.0" y="271.5" width="10.4" height="66.9" fill="#000"/>
<text transform="translate(113.1 351.8) rotate(-28)" font-size="5.3" font-weight="bold" text-anchor="end" fill="#111" stroke="#111" stroke-width="0.25">hsa-mir-200c</text>
<rect x="136.9" y="272.2" width="10.4" height="66.2" fill="#000"/>
<line x1="142.1" y1="272.2" x2="142.1" y2="264.4" stroke="#000" stroke-width="0.9"/>
<line x1="139.8" y1="264.4" x2="144.4" y2="264.4" stroke="#000" stroke-width="1"/>
<text transform="translate(135.0 351.8) rotate(-28)" font-size="5.3" font-weight="bold" text-anchor="end" fill="#111" stroke="#111" stroke-width="0.25">hsa-mir-181d</text>
<rect x="158.8" y="277.3" width="10.4" height="61.1" fill="#000"/>
<line x1="164.0" y1="277.3" x2="164.0" y2="265.8" stroke="#000" stroke-width="0.9"/>
<line x1="161.7" y1="265.8" x2="166.3" y2="265.8" stroke="#000" stroke-width="1"/>
<text transform="translate(156.9 351.8) rotate(-28)" font-size="5.3" font-weight="bold" text-anchor="end" fill="#111" stroke="#111" stroke-width="0.25">hsa-mir-505</text>
<rect x="180.7" y="278.0" width="10.4" height="60.4" fill="#000"/>
<line x1="185.9" y1="278.0" x2="185.9" y2="271.5" stroke="#000" stroke-width="0.9"/>
<line x1="183.6" y1="271.5" x2="188.2" y2="271.5" stroke="#000" stroke-width="1"/>
<text transform="translate(178.8 351.8) rotate(-28)" font-size="5.3" font-weight="bold" text-anchor="end" fill="#111" stroke="#111" stroke-width="0.25">hsa-mir-193b</text>
<rect x="202.6" y="278.0" width="10.4" height="60.4" fill="#000"/>
<line x1="207.8" y1="278.0" x2="207.8" y2="269.7" stroke="#000" stroke-width="0.9"/>
<line x1="205.5" y1="269.7" x2="210.1" y2="269.7" stroke="#000" stroke-width="1"/>
<text transform="translate(200.7 351.8) rotate(-28)" font-size="5.3" font-weight="bold" text-anchor="end" fill="#111" stroke="#111" stroke-width="0.25">hsa-mir-494</text>
<rect x="224.5" y="278.7" width="10.4" height="59.7" fill="#000"/>
<line x1="229.7" y1="278.7" x2="229.7" y2="265.1" stroke="#000" stroke-width="0.9"/>
<line x1="227.4" y1="265.1" x2="232.0" y2="265.1" stroke="#000" stroke-width="1"/>
<text transform="translate(222.6 351.8) rotate(-28)" font-size="5.3" font-weight="bold" text-anchor="end" fill="#111" stroke="#111" stroke-width="0.25">hsa-mir-149</text>
<rect x="246.4" y="279.8" width="10.4" height="58.6" fill="#000"/>
<line x1="251.6" y1="279.8" x2="251.6" y2="277.1" stroke="#000" stroke-width="0.9"/>
<line x1="249.3" y1="277.1" x2="253.9" y2="277.1" stroke="#000" stroke-width="1"/>
<text transform="translate(244.5 351.8) rotate(-28)" font-size="5.3" font-weight="bold" text-anchor="end" fill="#111" stroke="#111" stroke-width="0.25">hsa-mir-345</text>
<line x1="43.9" y1="216.4" x2="43.9" y2="338.9" stroke="#000" stroke-width="1"/>
<line x1="43" y1="338.4" x2="263" y2="338.4" stroke="#000" stroke-width="1"/>
<line x1="43.6" y1="338.4" x2="43.6" y2="340.59999999999997" stroke="#000" stroke-width="0.8"/>
<line x1="65.5" y1="338.4" x2="65.5" y2="340.59999999999997" stroke="#000" stroke-width="0.8"/>
<line x1="87.4" y1="338.4" x2="87.4" y2="340.59999999999997" stroke="#000" stroke-width="0.8"/>
<line x1="109.3" y1="338.4" x2="109.3" y2="340.59999999999997" stroke="#000" stroke-width="0.8"/>
<line x1="131.2" y1="338.4" x2="131.2" y2="340.59999999999997" stroke="#000" stroke-width="0.8"/>
<line x1="153.1" y1="338.4" x2="153.1" y2="340.59999999999997" stroke="#000" stroke-width="0.8"/>
<line x1="175.0" y1="338.4" x2="175.0" y2="340.59999999999997" stroke="#000" stroke-width="0.8"/>
<line x1="196.9" y1="338.4" x2="196.9" y2="340.59999999999997" stroke="#000" stroke-width="0.8"/>
<line x1="218.8" y1="338.4" x2="218.8" y2="340.59999999999997" stroke="#000" stroke-width="0.8"/>
<line x1="240.7" y1="338.4" x2="240.7" y2="340.59999999999997" stroke="#000" stroke-width="0.8"/>
<line x1="262.6" y1="338.4" x2="262.6" y2="340.59999999999997" stroke="#000" stroke-width="0.8"/>
<line x1="41.3" y1="338.4" x2="43.9" y2="338.4" stroke="#000" stroke-width="0.8"/>
<text x="39.8" y="340.2" font-size="5" font-weight="bold" text-anchor="end" fill="#111" stroke="#111" stroke-width="0.2">0</text>
<line x1="41.3" y1="323.2" x2="43.9" y2="323.2" stroke="#000" stroke-width="0.8"/>
<text x="39.8" y="325.0" font-size="5" font-weight="bold" text-anchor="end" fill="#111" stroke="#111" stroke-width="0.2">0.2</text>
<line x1="41.3" y1="308.0" x2="43.9" y2="308.0" stroke="#000" stroke-width="0.8"/>
<text x="39.8" y="309.8" font-size="5" font-weight="bold" text-anchor="end" fill="#111" stroke="#111" stroke-width="0.2">0.4</text>
<line x1="41.3" y1="292.8" x2="43.9" y2="292.8" stroke="#000" stroke-width="0.8"/>
<text x="39.8" y="294.6" font-size="5" font-weight="bold" text-anchor="end" fill="#111" stroke="#111" stroke-width="0.2">0.6</text>
<line x1="41.3" y1="277.6" x2="43.9" y2="277.6" stroke="#000" stroke-width="0.8"/>
<text x="39.8" y="279.4" font-size="5" font-weight="bold" text-anchor="end" fill="#111" stroke="#111" stroke-width="0.2">0.8</text>
<line x1="41.3" y1="262.4" x2="43.9" y2="262.4" stroke="#000" stroke-width="0.8"/>
<text x="39.8" y="264.2" font-size="5" font-weight="bold" text-anchor="end" fill="#111" stroke="#111" stroke-width="0.2">1</text>
<line x1="41.3" y1="247.2" x2="43.9" y2="247.2" stroke="#000" stroke-width="0.8"/>
<text x="39.8" y="249.0" font-size="5" font-weight="bold" text-anchor="end" fill="#111" stroke="#111" stroke-width="0.2">1.2</text>
<line x1="41.3" y1="232.0" x2="43.9" y2="232.0" stroke="#000" stroke-width="0.8"/>
<text x="39.8" y="233.8" font-size="5" font-weight="bold" text-anchor="end" fill="#111" stroke="#111" stroke-width="0.2">1.4</text>
<line x1="41.3" y1="216.8" x2="43.9" y2="216.8" stroke="#000" stroke-width="0.8"/>
<text x="39.8" y="218.6" font-size="5" font-weight="bold" text-anchor="end" fill="#111" stroke="#111" stroke-width="0.2">1.6</text>
<text transform="translate(23.5 282) rotate(-90)" font-size="8.8" text-anchor="middle" textLength="40.6" lengthAdjust="spacingAndGlyphs" fill="#111" stroke="#111" stroke-width="0.18">Log<tspan font-size="6" dy="2">2</tspan><tspan dy="-2"> ratio</tspan></text>
</g>
<g id="D">
<text x="291.6" y="40.2" font-size="11.5" font-weight="bold">D</text>
<path d="M322.1 218.5 L322.1 28" stroke="#000" stroke-width="1.25" fill="none"/>
<path d="M322 24.8 L319.8 30 L324.2 30 Z" fill="#000"/>
<path d="M321.5 218.5 L515 218.5" stroke="#000" stroke-width="1.25" fill="none"/>
<path d="M518.8 218.5 L513.6 216.2 L513.6 220.8 Z" fill="#000"/>
<text transform="translate(314.6 141.8) rotate(-90)" font-size="7" font-weight="bold" text-anchor="middle" textLength="136.4" lengthAdjust="spacingAndGlyphs" fill="#111">TEL-AML1 direct targets (Pull-down)</text>
<text x="413.2" y="232.1" font-size="7.3" font-weight="bold" text-anchor="middle" textLength="195.6" lengthAdjust="spacingAndGlyphs" fill="#111">miRNA expression change upon TEL-AML1 silencing</text>
<rect x="350" y="58.8" width="148.8" height="122.3" fill="none" stroke="#777" stroke-width="0.8"/>
<line x1="347.2" y1="175.0" x2="350" y2="175.0" stroke="#777" stroke-width="0.6"/>
<text transform="translate(342.9 175.0) rotate(-90)" font-size="5.9" text-anchor="middle" fill="#444">0.4</text>
<line x1="347.2" y1="153.3" x2="350" y2="153.3" stroke="#777" stroke-width="0.6"/>
<text transform="translate(342.9 153.3) rotate(-90)" font-size="5.9" text-anchor="middle" fill="#444">0.6</text>
<line x1="347.2" y1="131.7" x2="350" y2="131.7" stroke="#777" stroke-width="0.6"/>
<text transform="translate(342.9 131.7) rotate(-90)" font-size="5.9" text-anchor="middle" fill="#444">0.8</text>
<line x1="347.2" y1="110.0" x2="350" y2="110.0" stroke="#777" stroke-width="0.6"/>
<text transform="translate(342.9 110.0) rotate(-90)" font-size="5.9" text-anchor="middle" fill="#444">1.0</text>
<line x1="347.2" y1="88.4" x2="350" y2="88.4" stroke="#777" stroke-width="0.6"/>
<text transform="translate(342.9 88.4) rotate(-90)" font-size="5.9" text-anchor="middle" fill="#444">1.2</text>
<line x1="347.2" y1="66.7" x2="350" y2="66.7" stroke="#777" stroke-width="0.6"/>
<text transform="translate(342.9 66.7) rotate(-90)" font-size="5.9" text-anchor="middle" fill="#444">1.4</text>
<line x1="372.6" y1="181.1" x2="372.6" y2="183.8" stroke="#777" stroke-width="0.6"/>
<text x="372.6" y="192" font-size="5.9" text-anchor="middle" fill="#444">-2</text>
<line x1="407.1" y1="181.1" x2="407.1" y2="183.8" stroke="#777" stroke-width="0.6"/>
<text x="407.1" y="192" font-size="5.9" text-anchor="middle" fill="#444">-1</text>
<line x1="441.6" y1="181.1" x2="441.6" y2="183.8" stroke="#777" stroke-width="0.6"/>
<text x="441.6" y="192" font-size="5.9" text-anchor="middle" fill="#444">0</text>
<line x1="476.1" y1="181.1" x2="476.1" y2="183.8" stroke="#777" stroke-width="0.6"/>
<text x="476.1" y="192" font-size="5.9" text-anchor="middle" fill="#444">1</text>
<text transform="translate(333.3 119.5) rotate(-90)" font-size="5.5" text-anchor="middle" textLength="134" lengthAdjust="spacingAndGlyphs" fill="#4a4a4a">ncRNA promoter array: max smoothed log-ratios</text>
<text x="424.8" y="203.6" font-size="5.2" text-anchor="middle" textLength="90.5" lengthAdjust="spacingAndGlyphs" fill="#4a4a4a">miRNA expression array log=ratios</text>
<line x1="441.6" y1="59" x2="441.6" y2="181" stroke="#999" stroke-width="0.5" stroke-dasharray="0.8 1.2"/>
<text x="445.7" y="65.6" font-size="5" text-anchor="middle" fill="#2a2a2a">139</text>
<text x="443.3" y="83.7" font-size="5" text-anchor="middle" fill="#2a2a2a">455</text>
<text x="430.0" y="99.6" font-size="5" text-anchor="middle" fill="#2a2a2a">7g</text>
<text x="419.1" y="109.9" font-size="5" text-anchor="middle" fill="#2a2a2a">181d</text>
<text x="442.8" y="106.7" font-size="5" text-anchor="middle" fill="#2a2a2a">3328</text>
<text x="441.5" y="109.3" font-size="5" text-anchor="middle" fill="#2a2a2a">505</text>
<text x="422.3" y="131.2" font-size="5" text-anchor="middle" fill="#2a2a2a">345</text>
<text x="420.7" y="146.5" font-size="5" text-anchor="middle" fill="#2a2a2a">331</text>
<text x="458.2" y="151.9" font-size="5" text-anchor="middle" fill="#2a2a2a">335</text>
<text x="422.0" y="156.7" font-size="5" text-anchor="middle" fill="#2a2a2a">28</text>
<text x="415.0" y="160.2" font-size="5" text-anchor="middle" fill="#2a2a2a">26b</text>
<text x="424.0" y="161.7" font-size="5" text-anchor="middle" fill="#2a2a2a">21</text>
<text x="424.8" y="168.8" font-size="5" text-anchor="middle" fill="#2a2a2a">150</text>
<text x="457.3" y="172.0" font-size="5" text-anchor="middle" fill="#2a2a2a">191</text>
<text x="448.6" y="130.6" font-size="5" text-anchor="middle" fill="#2a2a2a">361</text>
<text x="437.5" y="120.5" font-size="5" text-anchor="middle" fill="#2a2a2a">182b</text>
<text x="433.5" y="125.2" font-size="5" text-anchor="middle" fill="#2a2a2a">1915</text>
<text x="446.0" y="126.0" font-size="5" text-anchor="middle" fill="#2a2a2a">92c</text>
<text x="441.5" y="178.9" font-size="5" text-anchor="middle" fill="#2a2a2a">128</text>
<text x="443.5" y="175.9" font-size="5" text-anchor="middle" fill="#2a2a2a">1306</text>
<text x="443.3" y="129.5" font-size="5" text-anchor="middle" fill="#2a2a2a">16</text>
<text x="432.6" y="150.6" font-size="5" text-anchor="middle" fill="#2a2a2a">17</text>
<text x="439.6" y="155.2" font-size="5" text-anchor="middle" fill="#2a2a2a">18a</text>
<text x="438.3" y="152.8" font-size="5" text-anchor="middle" fill="#2a2a2a">19b</text>
<text x="439.0" y="152.3" font-size="5" text-anchor="middle" fill="#2a2a2a">20a</text>
<text x="445.4" y="168.2" font-size="5" text-anchor="middle" fill="#2a2a2a">22</text>
<text x="449.2" y="140.8" font-size="5" text-anchor="middle" fill="#2a2a2a">23a</text>
<text x="439.4" y="151.2" font-size="5" text-anchor="middle" fill="#2a2a2a">24</text>
<text x="434.1" y="158.6" font-size="5" text-anchor="middle" fill="#2a2a2a">25</text>
<text x="436.1" y="139.6" font-size="5" text-anchor="middle" fill="#2a2a2a">27a</text>
<text x="440.3" y="166.6" font-size="5" text-anchor="middle" fill="#2a2a2a">29b</text>
<text x="442.4" y="133.3" font-size="5" text-anchor="middle" fill="#2a2a2a">30c</text>
<text x="437.9" y="164.5" font-size="5" text-anchor="middle" fill="#2a2a2a">31</text>
<text x="440.5" y="144.0" font-size="5" text-anchor="middle" fill="#2a2a2a">32</text>
<text x="440.2" y="161.4" font-size="5" text-anchor="middle" fill="#2a2a2a">33</text>
<text x="450.5" y="142.5" font-size="5" text-anchor="middle" fill="#2a2a2a">34a</text>
<text x="438.3" y="167.3" font-size="5" text-anchor="middle" fill="#2a2a2a">92a</text>
<text x="430.0" y="161.8" font-size="5" text-anchor="middle" fill="#2a2a2a">93</text>
<text x="436.5" y="163.3" font-size="5" text-anchor="middle" fill="#2a2a2a">96</text>
<text x="440.6" y="137.8" font-size="5" text-anchor="middle" fill="#2a2a2a">98</text>
<text x="444.3" y="172.0" font-size="5" text-anchor="middle" fill="#2a2a2a">99a</text>
<text x="433.1" y="156.2" font-size="5" text-anchor="middle" fill="#2a2a2a">100</text>
<text x="438.5" y="159.2" font-size="5" text-anchor="middle" fill="#2a2a2a">101</text>
<text x="441.4" y="162.7" font-size="5" text-anchor="middle" fill="#2a2a2a">103</text>
<text x="445.2" y="139.2" font-size="5" text-anchor="middle" fill="#2a2a2a">107</text>
<text x="446.5" y="138.0" font-size="5" text-anchor="middle" fill="#2a2a2a">125b</text>
<text x="436.0" y="133.3" font-size="5" text-anchor="middle" fill="#2a2a2a">126</text>
<text x="432.6" y="141.3" font-size="5" text-anchor="middle" fill="#2a2a2a">130a</text>
<text x="432.3" y="159.3" font-size="5" text-anchor="middle" fill="#2a2a2a">132</text>
<text x="447.5" y="138.7" font-size="5" text-anchor="middle" fill="#2a2a2a">133a</text>
<text x="449.5" y="154.2" font-size="5" text-anchor="middle" fill="#2a2a2a">135</text>
<text x="442.0" y="160.2" font-size="5" text-anchor="middle" fill="#2a2a2a">140</text>
<text x="436.3" y="149.9" font-size="5" text-anchor="middle" fill="#2a2a2a">141</text>
<text x="450.3" y="146.3" font-size="5" text-anchor="middle" fill="#2a2a2a">142</text>
<text x="445.4" y="164.6" font-size="5" text-anchor="middle" fill="#2a2a2a">143</text>
<text x="449.5" y="153.7" font-size="5" text-anchor="middle" fill="#2a2a2a">145</text>
<text x="444.4" y="145.8" font-size="5" text-anchor="middle" fill="#2a2a2a">146a</text>
<text x="442.4" y="143.8" font-size="5" text-anchor="middle" fill="#2a2a2a">148a</text>
<text x="447.7" y="169.2" font-size="5" text-anchor="middle" fill="#2a2a2a">151</text>
<text x="442.4" y="168.9" font-size="5" text-anchor="middle" fill="#2a2a2a">152</text>
<text x="437.4" y="144.1" font-size="5" text-anchor="middle" fill="#2a2a2a">155</text>
<text x="446.7" y="150.0" font-size="5" text-anchor="middle" fill="#2a2a2a">181a</text>
<text x="437.1" y="152.1" font-size="5" text-anchor="middle" fill="#2a2a2a">182</text>
<text x="438.8" y="159.2" font-size="5" text-anchor="middle" fill="#2a2a2a">185</text>
<text x="443.0" y="163.7" font-size="5" text-anchor="middle" fill="#2a2a2a">186</text>
<text x="440.7" y="158.9" font-size="5" text-anchor="middle" fill="#2a2a2a">192</text>
<text x="437.3" y="143.3" font-size="5" text-anchor="middle" fill="#2a2a2a">194</text>
<text x="451.3" y="155.5" font-size="5" text-anchor="middle" fill="#2a2a2a">195</text>
<text x="435.2" y="140.9" font-size="5" text-anchor="middle" fill="#2a2a2a">196a</text>
<text x="443.9" y="152.8" font-size="5" text-anchor="middle" fill="#2a2a2a">197</text>
<text x="441.9" y="136.4" font-size="5" text-anchor="middle" fill="#2a2a2a">199a</text>
<text x="437.9" y="158.4" font-size="5" text-anchor="middle" fill="#2a2a2a">200a</text>
<text x="442.7" y="143.8" font-size="5" text-anchor="middle" fill="#2a2a2a">203</text>
<text x="440.4" y="158.2" font-size="5" text-anchor="middle" fill="#2a2a2a">204</text>
<text x="444.6" y="157.0" font-size="5" text-anchor="middle" fill="#2a2a2a">205</text>
<text x="443.5" y="160.4" font-size="5" text-anchor="middle" fill="#2a2a2a">210</text>
<text x="443.5" y="141.2" font-size="5" text-anchor="middle" fill="#2a2a2a">212</text>
<text x="447.5" y="162.2" font-size="5" text-anchor="middle" fill="#2a2a2a">214</text>
<text x="443.2" y="160.2" font-size="5" text-anchor="middle" fill="#2a2a2a">215</text>
<text x="433.1" y="161.2" font-size="5" text-anchor="middle" fill="#2a2a2a">216</text>
<text x="442.6" y="149.0" font-size="5" text-anchor="middle" fill="#2a2a2a">218</text>
<text x="442.5" y="152.8" font-size="5" text-anchor="middle" fill="#2a2a2a">219</text>
<text x="437.8" y="159.9" font-size="5" text-anchor="middle" fill="#2a2a2a">221</text>
<text x="450.1" y="153.9" font-size="5" text-anchor="middle" fill="#2a2a2a">222</text>
<text x="438.8" y="141.6" font-size="5" text-anchor="middle" fill="#2a2a2a">223</text>
<text x="439.0" y="144.8" font-size="5" text-anchor="middle" fill="#2a2a2a">224</text>
<text x="445.3" y="157.5" font-size="5" text-anchor="middle" fill="#2a2a2a">296</text>
<text x="433.5" y="158.3" font-size="5" text-anchor="middle" fill="#2a2a2a">301</text>
<text x="441.7" y="163.1" font-size="5" text-anchor="middle" fill="#2a2a2a">320</text>
<text x="447.0" y="150.2" font-size="5" text-anchor="middle" fill="#2a2a2a">324</text>
<text x="444.7" y="160.7" font-size="5" text-anchor="middle" fill="#2a2a2a">328</text>
<text x="440.6" y="146.5" font-size="5" text-anchor="middle" fill="#2a2a2a">330</text>
<text x="443.5" y="141.4" font-size="5" text-anchor="middle" fill="#2a2a2a">339</text>
<text x="446.2" y="162.5" font-size="5" text-anchor="middle" fill="#2a2a2a">340</text>
<text x="441.5" y="167.0" font-size="5" text-anchor="middle" fill="#2a2a2a">342</text>
<text x="443.2" y="151.8" font-size="5" text-anchor="middle" fill="#2a2a2a">346</text>
<text x="441.1" y="160.8" font-size="5" text-anchor="middle" fill="#2a2a2a">365</text>
<text x="445.9" y="153.5" font-size="5" text-anchor="middle" fill="#2a2a2a">370</text>
<text x="441.6" y="161.7" font-size="5" text-anchor="middle" fill="#2a2a2a">374</text>
<text x="435.2" y="155.0" font-size="5" text-anchor="middle" fill="#2a2a2a">375</text>
<text x="440.9" y="118.5" font-size="5" text-anchor="middle" fill="#2a2a2a">378</text>
<text x="447.8" y="170.3" font-size="5" text-anchor="middle" fill="#2a2a2a">379</text>
<text x="443.0" y="165.1" font-size="5" text-anchor="middle" fill="#2a2a2a">381</text>
<text x="438.2" y="141.0" font-size="5" text-anchor="middle" fill="#2a2a2a">382</text>
<text x="438.7" y="157.2" font-size="5" text-anchor="middle" fill="#2a2a2a">383</text>
<text x="433.7" y="153.4" font-size="5" text-anchor="middle" fill="#2a2a2a">423</text>
<text x="440.6" y="167.2" font-size="5" text-anchor="middle" fill="#2a2a2a">424</text>
<text x="444.2" y="138.9" font-size="5" text-anchor="middle" fill="#2a2a2a">425</text>
<text x="444.5" y="130.3" font-size="5" text-anchor="middle" fill="#2a2a2a">429</text>
<text x="440.7" y="158.2" font-size="5" text-anchor="middle" fill="#2a2a2a">432</text>
<text x="442.5" y="164.5" font-size="5" text-anchor="middle" fill="#2a2a2a">449</text>
<text x="438.6" y="143.7" font-size="5" text-anchor="middle" fill="#2a2a2a">450</text>
<text x="434.1" y="159.1" font-size="5" text-anchor="middle" fill="#2a2a2a">451</text>
<text x="442.4" y="153.4" font-size="5" text-anchor="middle" fill="#2a2a2a">452</text>
<text x="437.6" y="146.2" font-size="5" text-anchor="middle" fill="#2a2a2a">483</text>
<text x="438.8" y="153.0" font-size="5" text-anchor="middle" fill="#2a2a2a">485</text>
<text x="442.0" y="155.8" font-size="5" text-anchor="middle" fill="#2a2a2a">486</text>
<text x="443.5" y="152.0" font-size="5" text-anchor="middle" fill="#2a2a2a">487b</text>
<text x="447.6" y="142.2" font-size="5" text-anchor="middle" fill="#2a2a2a">489</text>
<text x="440.7" y="137.5" font-size="5" text-anchor="middle" fill="#2a2a2a">491</text>
<text x="439.5" y="147.0" font-size="5" text-anchor="middle" fill="#2a2a2a">497</text>
<text x="450.2" y="159.1" font-size="5" text-anchor="middle" fill="#2a2a2a">499</text>
<text x="450.5" y="157.5" font-size="5" text-anchor="middle" fill="#2a2a2a">500</text>
<text x="442.4" y="156.1" font-size="5" text-anchor="middle" fill="#2a2a2a">501</text>
<text x="441.4" y="138.2" font-size="5" text-anchor="middle" fill="#2a2a2a">502</text>
<text x="440.1" y="146.9" font-size="5" text-anchor="middle" fill="#2a2a2a">503</text>
<text x="440.5" y="157.7" font-size="5" text-anchor="middle" fill="#2a2a2a">16</text>
<text x="448.9" y="159.9" font-size="5" text-anchor="middle" fill="#2a2a2a">17</text>
<text x="449.3" y="153.9" font-size="5" text-anchor="middle" fill="#2a2a2a">18a</text>
<text x="439.9" y="144.8" font-size="5" text-anchor="middle" fill="#2a2a2a">20a</text>
<text x="444.2" y="138.2" font-size="5" text-anchor="middle" fill="#2a2a2a">22</text>
<text x="443.3" y="155.2" font-size="5" text-anchor="middle" fill="#2a2a2a">23a</text>
<text x="439.2" y="148.1" font-size="5" text-anchor="middle" fill="#2a2a2a">25</text>
<text x="435.3" y="150.1" font-size="5" text-anchor="middle" fill="#2a2a2a">27a</text>
<text x="452.7" y="154.3" font-size="5" text-anchor="middle" fill="#2a2a2a">29b</text>
<text x="444.2" y="138.5" font-size="5" text-anchor="middle" fill="#2a2a2a">30c</text>
<text x="450.0" y="138.0" font-size="5" text-anchor="middle" fill="#2a2a2a">31</text>
<text x="450.9" y="144.4" font-size="5" text-anchor="middle" fill="#2a2a2a">32</text>
<text x="442.0" y="138.5" font-size="5" text-anchor="middle" fill="#2a2a2a">33</text>
<text x="430.3" y="130.4" font-size="5" text-anchor="middle" fill="#2a2a2a">34a</text>
<text x="442.5" y="158.9" font-size="5" text-anchor="middle" fill="#2a2a2a">92a</text>
<text x="440.5" y="163.2" font-size="5" text-anchor="middle" fill="#2a2a2a">93</text>
<text x="438.2" y="159.7" font-size="5" text-anchor="middle" fill="#2a2a2a">96</text>
<text x="447.4" y="152.5" font-size="5" text-anchor="middle" fill="#2a2a2a">99a</text>
<text x="445.4" y="154.7" font-size="5" text-anchor="middle" fill="#2a2a2a">100</text>
<text x="448.8" y="147.4" font-size="5" text-anchor="middle" fill="#2a2a2a">101</text>
<text x="444.8" y="169.5" font-size="5" text-anchor="middle" fill="#2a2a2a">103</text>
<text x="435.9" y="150.3" font-size="5" text-anchor="middle" fill="#2a2a2a">106b</text>
<text x="437.2" y="138.5" font-size="5" text-anchor="middle" fill="#2a2a2a">107</text>
<text x="443.6" y="131.6" font-size="5" text-anchor="middle" fill="#2a2a2a">125b</text>
<text x="441.6" y="143.1" font-size="5" text-anchor="middle" fill="#2a2a2a">126</text>
<text x="432.6" y="140.5" font-size="5" text-anchor="middle" fill="#2a2a2a">130a</text>
<text x="438.3" y="150.9" font-size="5" text-anchor="middle" fill="#2a2a2a">132</text>
<text x="441.0" y="148.3" font-size="5" text-anchor="middle" fill="#2a2a2a">133a</text>
<text x="437.4" y="144.1" font-size="5" text-anchor="middle" fill="#2a2a2a">135</text>
<text x="441.2" y="154.4" font-size="5" text-anchor="middle" fill="#2a2a2a">141</text>
<text x="447.1" y="148.2" font-size="5" text-anchor="middle" fill="#2a2a2a">142</text>
<text x="436.3" y="159.5" font-size="5" text-anchor="middle" fill="#2a2a2a">145</text>
<text x="433.6" y="165.7" font-size="5" text-anchor="middle" fill="#2a2a2a">146a</text>
<text x="435.9" y="147.3" font-size="5" text-anchor="middle" fill="#2a2a2a">148a</text>
<text x="445.5" y="133.1" font-size="5" text-anchor="middle" fill="#2a2a2a">151</text>
<text x="436.5" y="164.6" font-size="5" text-anchor="middle" fill="#2a2a2a">152</text>
<text x="447.8" y="159.4" font-size="5" text-anchor="middle" fill="#2a2a2a">155</text>
<text x="434.3" y="162.4" font-size="5" text-anchor="middle" fill="#2a2a2a">181a</text>
<text x="443.0" y="152.4" font-size="5" text-anchor="middle" fill="#2a2a2a">182</text>
<text x="448.8" y="160.0" font-size="5" text-anchor="middle" fill="#2a2a2a">183</text>
<text x="443.4" y="148.8" font-size="5" text-anchor="middle" fill="#2a2a2a">185</text>
<text x="441.1" y="162.4" font-size="5" text-anchor="middle" fill="#2a2a2a">186</text>
<text x="430.7" y="153.7" font-size="5" text-anchor="middle" fill="#2a2a2a">192</text>
<text x="432.9" y="148.2" font-size="5" text-anchor="middle" fill="#2a2a2a">194</text>
<text x="434.4" y="152.1" font-size="5" text-anchor="middle" fill="#2a2a2a">195</text>
<text x="442.8" y="126.6" font-size="5" text-anchor="middle" fill="#2a2a2a">196a</text>
<text x="445.5" y="141.1" font-size="5" text-anchor="middle" fill="#2a2a2a">197</text>
<text x="445.4" y="155.9" font-size="5" text-anchor="middle" fill="#2a2a2a">200a</text>
<text x="444.9" y="150.7" font-size="5" text-anchor="middle" fill="#2a2a2a">203</text>
<text x="434.3" y="140.1" font-size="5" text-anchor="middle" fill="#2a2a2a">204</text>
<text x="450.4" y="148.2" font-size="5" text-anchor="middle" fill="#2a2a2a">205</text>
<text x="431.8" y="158.9" font-size="5" text-anchor="middle" fill="#2a2a2a">210</text>
<text x="439.1" y="154.7" font-size="5" text-anchor="middle" fill="#2a2a2a">212</text>
<text x="437.1" y="146.6" font-size="5" text-anchor="middle" fill="#2a2a2a">214</text>
<text x="430.9" y="150.7" font-size="5" text-anchor="middle" fill="#2a2a2a">215</text>
<text x="448.6" y="141.2" font-size="5" text-anchor="middle" fill="#2a2a2a">216</text>
<text x="434.2" y="135.6" font-size="5" text-anchor="middle" fill="#2a2a2a">218</text>
<text x="441.0" y="148.3" font-size="5" text-anchor="middle" fill="#2a2a2a">221</text>
<text x="442.9" y="164.2" font-size="5" text-anchor="middle" fill="#2a2a2a">222</text>
<text x="445.6" y="150.1" font-size="5" text-anchor="middle" fill="#2a2a2a">223</text>
<text x="442.3" y="150.2" font-size="5" text-anchor="middle" fill="#2a2a2a">224</text>
<text x="442.6" y="157.7" font-size="5" text-anchor="middle" fill="#2a2a2a">301</text>
<text x="448.2" y="151.9" font-size="5" text-anchor="middle" fill="#2a2a2a">320</text>
<text x="440.1" y="162.6" font-size="5" text-anchor="middle" fill="#2a2a2a">324</text>
<text x="440.2" y="148.6" font-size="5" text-anchor="middle" fill="#2a2a2a">328</text>
<text x="438.6" y="145.6" font-size="5" text-anchor="middle" fill="#2a2a2a">330</text>
<text x="439.8" y="134.1" font-size="5" text-anchor="middle" fill="#2a2a2a">339</text>
<text x="441.1" y="137.9" font-size="5" text-anchor="middle" fill="#2a2a2a">340</text>
<text x="434.7" y="133.2" font-size="5" text-anchor="middle" fill="#2a2a2a">342</text>
<text x="439.2" y="145.4" font-size="5" text-anchor="middle" fill="#2a2a2a">346</text>
<text x="446.8" y="148.9" font-size="5" text-anchor="middle" fill="#2a2a2a">365</text>
<text x="435.1" y="166.0" font-size="5" text-anchor="middle" fill="#2a2a2a">370</text>
<ellipse cx="482.7" cy="114.2" rx="12.2" ry="5.3" fill="none" stroke="#000" stroke-width="1.2"/>
<text x="484.6" y="116.1" font-size="4.8" text-anchor="middle" fill="#333">494</text>
<ellipse cx="478.6" cy="157.6" rx="12.2" ry="5.1" fill="none" stroke="#000" stroke-width="1.2"/>
<text x="478.6" y="159.4" font-size="4.8" text-anchor="middle" fill="#333">320</text>
<line x1="486.3" y1="92.6" x2="483.9" y2="101.9" stroke="#000" stroke-width="1.35"/>
<path d="M482.8 106.4 L482.0 101.4 L485.9 102.4 Z" fill="#000"/>
<line x1="482.1" y1="136.5" x2="479.7" y2="146.4" stroke="#000" stroke-width="1.35"/>
<path d="M478.6 150.9 L477.7 146.0 L481.6 146.9 Z" fill="#000"/>
</g>
<g id="E">
<text x="348.5" y="274.7" font-size="11" font-weight="bold">E</text>
<line x1="393.3" y1="265.5" x2="393.3" y2="361.9" stroke="#777" stroke-width="0.8"/>
<line x1="393.3" y1="361.9" x2="480.7" y2="361.9" stroke="#999" stroke-width="0.8"/>
<line x1="391" y1="361.9" x2="393.3" y2="361.9" stroke="#777" stroke-width="0.7"/>
<text x="384.7" y="364.4" font-size="7" text-anchor="middle" fill="#222" stroke="#222" stroke-width="0.2">0</text>
<line x1="391" y1="349.9" x2="393.3" y2="349.9" stroke="#777" stroke-width="0.7"/>
<text x="384.7" y="352.4" font-size="7" text-anchor="middle" fill="#222" stroke="#222" stroke-width="0.2">1</text>
<line x1="391" y1="337.8" x2="393.3" y2="337.8" stroke="#777" stroke-width="0.7"/>
<text x="384.7" y="340.3" font-size="7" text-anchor="middle" fill="#222" stroke="#222" stroke-width="0.2">2</text>
<line x1="391" y1="325.8" x2="393.3" y2="325.8" stroke="#777" stroke-width="0.7"/>
<text x="384.7" y="328.3" font-size="7" text-anchor="middle" fill="#222" stroke="#222" stroke-width="0.2">3</text>
<line x1="391" y1="313.8" x2="393.3" y2="313.8" stroke="#777" stroke-width="0.7"/>
<text x="384.7" y="316.3" font-size="7" text-anchor="middle" fill="#222" stroke="#222" stroke-width="0.2">4</text>
<line x1="391" y1="301.8" x2="393.3" y2="301.8" stroke="#777" stroke-width="0.7"/>
<text x="384.7" y="304.2" font-size="7" text-anchor="middle" fill="#222" stroke="#222" stroke-width="0.2">5</text>
<line x1="391" y1="289.7" x2="393.3" y2="289.7" stroke="#777" stroke-width="0.7"/>
<text x="384.7" y="292.2" font-size="7" text-anchor="middle" fill="#222" stroke="#222" stroke-width="0.2">6</text>
<line x1="391" y1="277.7" x2="393.3" y2="277.7" stroke="#777" stroke-width="0.7"/>
<text x="384.7" y="280.2" font-size="7" text-anchor="middle" fill="#222" stroke="#222" stroke-width="0.2">7</text>
<line x1="391" y1="265.7" x2="393.3" y2="265.7" stroke="#777" stroke-width="0.7"/>
<text x="384.7" y="268.2" font-size="7" text-anchor="middle" fill="#222" stroke="#222" stroke-width="0.2">8</text>
<line x1="442.5" y1="361.9" x2="442.5" y2="363.9" stroke="#999" stroke-width="0.7"/>
<line x1="480.5" y1="361.9" x2="480.5" y2="363.9" stroke="#999" stroke-width="0.7"/>
<rect x="406.4" y="321.9" width="17.5" height="40.0" fill="#000"/>
<line x1="415.15" y1="321.9" x2="415.15" y2="317.3" stroke="#222" stroke-width="0.9"/>
<line x1="412.84999999999997" y1="317.3" x2="417.45" y2="317.3" stroke="#222" stroke-width="0.9"/>
<text x="415" y="373.2" font-size="5.8" font-weight="bold" text-anchor="middle" fill="#111" stroke="#111" stroke-width="0.2">miRNA320</text>
<rect x="449.0" y="287.9" width="17.5" height="74.0" fill="#000"/>
<line x1="457.75" y1="287.9" x2="457.75" y2="277.9" stroke="#222" stroke-width="0.9"/>
<line x1="455.45" y1="277.9" x2="460.05" y2="277.9" stroke="#222" stroke-width="0.9"/>
<text x="457.6" y="373.2" font-size="5.8" font-weight="bold" text-anchor="middle" fill="#111" stroke="#111" stroke-width="0.2">miRNA494</text>
<text transform="translate(375.5 321.8) rotate(-90)" font-size="7" font-weight="bold" text-anchor="middle" textLength="81" lengthAdjust="spacingAndGlyphs" fill="#111">Pulldown fold change</text>
</g>
</svg>
</body></html>
